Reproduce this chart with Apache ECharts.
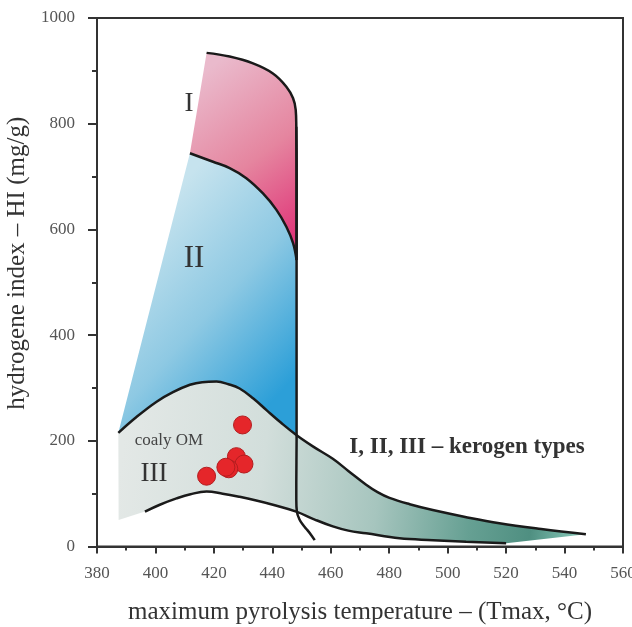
<!DOCTYPE html>
<html>
<head>
<meta charset="utf-8">
<script src="https://cdn.jsdelivr.net/npm/echarts@6/dist/echarts.min.js"></script>
<style>html,body{margin:0;padding:0;background:#fff}#c{width:632px;height:627px}</style>
</head>
<body>
<div id="c"></div>
<script>
// ---- data (Tmax °C, HI mg/g) ----
const xTicks = [380, 400, 420, 440, 460, 480, 500, 520, 540, 560];
const yTicks = [0, 200, 400, 600, 800, 1000];
const typeITop = [[417.5,934],[425.4,927],[433.4,914],[440.2,895],[444.8,870],[447.1,848],[448.0,826],[448.2,794],[448.3,700],[448.3,620],[448.3,542]];
const typeIITop = [[411.8,744],[419.7,728],[425.4,716],[431.1,697],[436.8,668],[441.4,637],[444.8,605],[447.1,574],[448.3,542]];
const boundaryLine = [[448.2,794],[448.3,700],[448.3,600],[448.3,500],[448.3,400],[448.3,300],[448.3,200],[448.2,120],[448.2,88],[448.4,66],[449.3,51],[450.6,40],[452,31],[453.4,21],[454.5,12]];
const typeIIIUpper = [[387.3,215],[393.5,245],[400.4,274],[406,292],[411.8,306],[416,311],[420.9,312],[425,307],[428.8,299],[433.5,280],[438,258],[443,234],[448.2,211],[454,189],[460.7,166],[466,143],[472.1,117],[476,103],[480.1,92],[487,80],[494.9,69],[506,56],[517.7,44],[532,33],[547.3,23]];
const typeIIILower = [[396.4,66],[401.5,79],[407.2,91],[412,99],[417.5,104],[423,100],[428.8,94],[434.5,87],[440.2,79],[448.2,66],[454.5,51],[460.7,38],[466,30],[472.1,25],[483.5,15.5],[495,12],[506.3,9],[520,6]];
const typeIIILeftCorner = [387.4,50];
const samples = [[429.8,230],[427.7,170],[430.3,156],[425.1,147],[424.1,150],[417.5,133]];

const chart = echarts.init(document.getElementById('c'));
const serif = '"Liberation Serif","DejaVu Serif",serif';

function grad(api, a, b, stops) {
  const p0 = api.coord(a), p1 = api.coord(b);
  return new echarts.graphic.LinearGradient(p0[0], p0[1], p1[0], p1[1], stops, true);
}
function poly(api, pts, fill) {
  return { type: 'polygon', shape: { points: pts.map(p => api.coord(p)) }, style: { fill: fill }, silent: true };
}

const bluePoly = typeIITop.concat([[448.3, 211]]).concat(typeIIIUpper.filter(p => p[0] < 448.2).reverse());
const pinkPoly = typeITop.concat(typeIITop.slice(0, -1).reverse());
const greyPoly = typeIIIUpper.concat(typeIIILower.slice().reverse()).concat([typeIIILeftCorner]);

const lineStyle = { color: '#1a1a1a', width: 2.5 };
function curve(data) {
  return { type: 'line', data: data, showSymbol: false, symbol: 'none', smooth: 0.4, z: 3, lineStyle: lineStyle, silent: true };
}

chart.setOption({
  animation: false,
  grid: { left: 97, right: 9, top: 18, bottom: 80.5, outerBoundsMode: 'none', containLabel: false,
    show: true, borderColor: '#333', borderWidth: 2, backgroundColor: 'transparent' },
  xAxis: {
    type: 'value', min: 380, max: 560, interval: 20,
    name: 'maximum pyrolysis temperature – (Tmax, °C)', nameLocation: 'middle', nameGap: 53,
    nameTextStyle: { fontFamily: serif, fontSize: 25, color: '#333' },
    axisLine: { show: true, onZero: false, lineStyle: { color: '#333', width: 2 } },
    axisTick: { show: true, inside: false, length: 7, lineStyle: { color: '#333', width: 2 } },
    minorTick: { show: true, splitNumber: 2, length: 4, lineStyle: { color: '#333', width: 2 } },
    splitLine: { show: false },
    axisLabel: { fontFamily: serif, fontSize: 17, color: '#555', margin: 19, formatter: v => xTicks.includes(v) ? String(v) : '' }
  },
  yAxis: {
    type: 'value', min: 0, max: 1000, interval: 200,
    name: 'hydrogene index – HI (mg/g)', nameLocation: 'middle', nameGap: 62,
    nameTextStyle: { fontFamily: serif, fontSize: 25, color: '#333', padding: [0, 0, 0, 38] },
    axisLine: { show: true, onZero: false, lineStyle: { color: '#333', width: 2 } },
    axisTick: { show: true, inside: false, length: 9, lineStyle: { color: '#333', width: 2 } },
    minorTick: { show: true, splitNumber: 2, length: 5, lineStyle: { color: '#333', width: 2 } },
    splitLine: { show: false },
    axisLabel: { fontFamily: serif, fontSize: 17, color: '#555', margin: 22, formatter: v => yTicks.includes(v) ? String(v) : '' }
  },
  series: [
    {
      type: 'custom', data: [0], z: 1, silent: true,
      renderItem: function (params, api) {
        return { type: 'group', children: [
          poly(api, bluePoly, grad(api, [395, 600], [449, 330], [
            { offset: 0, color: '#c6e3ee' }, { offset: 0.5, color: '#8ec9e3' }, { offset: 1, color: '#2c9fd8' }])),
          poly(api, greyPoly, grad(api, [388, 150], [548, 40], [
            { offset: 0, color: '#e3e8e6' }, { offset: 0.3, color: '#d2dedb' }, { offset: 0.55, color: '#a6c5be' },
            { offset: 0.75, color: '#66a093' }, { offset: 0.88, color: '#4f8f81' }, { offset: 1, color: '#8fd0c0' }])),
          poly(api, pinkPoly, grad(api, [412, 880], [449, 600], [
            { offset: 0, color: '#eabacc' }, { offset: 0.55, color: '#e5859f' }, { offset: 1, color: '#e03a7b' }]))
        ]};
      }
    },
    curve(typeITop),
    curve(typeIITop),
    curve(boundaryLine),
    curve(typeIIIUpper),
    curve(typeIIILower),
    { type: 'scatter', data: samples, symbolSize: 18, z: 5, silent: true,
      itemStyle: { color: '#e5262a', borderColor: '#b31d1f', borderWidth: 1, opacity: 1 } }
  ],
  graphic: [
    { type: 'text', x: 189, y: 104, z: 10, style: { text: 'I', font: '27px ' + serif, fill: '#333', align: 'center', verticalAlign: 'middle' } },
    { type: 'text', x: 194, y: 259, z: 10, style: { text: 'II', font: '31px ' + serif, fill: '#333', align: 'center', verticalAlign: 'middle' } },
    { type: 'text', x: 154, y: 474, z: 10, style: { text: 'III', font: '27px ' + serif, fill: '#333', align: 'center', verticalAlign: 'middle' } },
    { type: 'text', x: 169, y: 441, z: 10, style: { text: 'coaly OM', font: '17px ' + serif, fill: '#444', align: 'center', verticalAlign: 'middle' } },
    { type: 'text', x: 467, y: 447, z: 10, style: { text: 'I, II, III – kerogen types', font: 'bold 23px ' + serif, fill: '#333', align: 'center', verticalAlign: 'middle' } }
  ]
});
</script>
</body>
</html>
